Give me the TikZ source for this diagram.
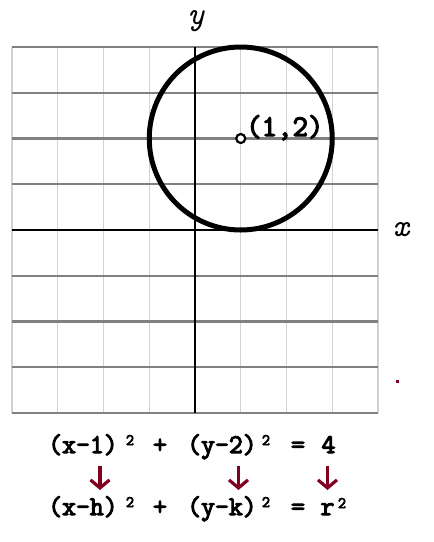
\documentclass[tikz,border=0pt]{standalone}
\usepackage{fontspec}
\usepackage{tikz}
\usetikzlibrary{arrows.meta}
\newfontfamily\courbf{Latin Modern Mono}[FakeBold=4]
\definecolor{arrred}{RGB}{128,0,32}
\tikzset{
  eqtxt/.style={inner sep=0pt,font=\courbf\fontsize{27}{30}\selectfont},
  suptxt/.style={inner sep=0pt,font=\courbf\fontsize{16}{18}\selectfont},
  ptlabel/.style={inner sep=0pt,font=\courbf\fontsize{30}{32}\selectfont},
  axlab/.style={inner sep=0pt,font=\ttfamily\itshape\fontsize{32}{36}\selectfont},
  vgrid/.style={gray!35,line width=1.2pt},
  hgrid/.style={gray,line width=2.2pt},
  axisln/.style={black,line width=2.6pt},
  downarr/.style={arrred,line width=3.2pt,-{Straight Barb[length=8pt,width=19pt]}}
}

\begin{document}
\begin{tikzpicture}[x=1pt,y=-1pt]
  % page size in pixels, y downward
  \useasboundingbox (0,0) rectangle (434,542);
  % graph: origin at (195,230), one unit = 45.75px
  \begin{scope}[shift={(195,230)},x=45.75pt,y=45.75pt]
    \foreach \i in {-4,...,4}{\draw[vgrid](\i,-4)--(\i,4);}
    \foreach \j in {-4,...,4}{\draw[hgrid](-4,\j)--(4,\j);}
    \draw[axisln](-4,0)--(4,0);
    \draw[axisln](0,-4)--(0,4);
    % circle centre (1,2), r=2
    \draw[line width=5pt](1,2) circle (2);
    \node[draw,circle,fill=white,line width=2.2pt,minimum size=9pt,inner sep=0pt] (ctr) at (1,2){};
  \end{scope}
  \node[axlab] (ylab) at (196,21){y};
  \node[axlab] (xlab) at (401,230){x};
  \node[ptlabel,anchor=base west] (ptlab) at (246,136){(1,2)};
  % stray mark at the right
  \fill[arrred](395.5,379.5) rectangle (398.5,382.5);
  % top equation, baseline 453
  \node[eqtxt,anchor=base west] (tA) at (48,453){(x-1)};
  \node[suptxt,anchor=base] (tA2) at (130,445){2};
  \node[eqtxt,anchor=base] (tP) at (160,453){+};
  \node[eqtxt,anchor=base west] (tB) at (187,453){(y-2)};
  \node[suptxt,anchor=base] (tB2) at (266,445){2};
  \node[eqtxt,anchor=base] (tE) at (298,453){=};
  \node[eqtxt,anchor=base] (tR) at (328.5,453){4};
  % bottom equation, baseline 515
  \node[eqtxt,anchor=base west] (bA) at (48,515){(x-h)};
  \node[suptxt,anchor=base] (bA2) at (130,507){2};
  \node[eqtxt,anchor=base] (bP) at (160,515){+};
  \node[eqtxt,anchor=base west] (bB) at (187,515){(y-k)};
  \node[suptxt,anchor=base] (bB2) at (266,507){2};
  \node[eqtxt,anchor=base] (bE) at (298,515){=};
  \node[eqtxt,anchor=base] (bR) at (327.5,515){r};
  \node[suptxt,anchor=base] (bR2) at (342,508){2};
  % arrows 1->h, 2->k, 4->r^2
  \coordinate (a1) at (100,466);\coordinate (b1) at (100,490);
  \coordinate (a2) at (238.5,466);\coordinate (b2) at (238.5,490);
  \coordinate (a3) at (327.5,466);\coordinate (b3) at (327.5,490);
  \draw[downarr](a1)--(b1);
  \draw[downarr](a2)--(b2);
  \draw[downarr](a3)--(b3);
\end{tikzpicture}
\end{document}
